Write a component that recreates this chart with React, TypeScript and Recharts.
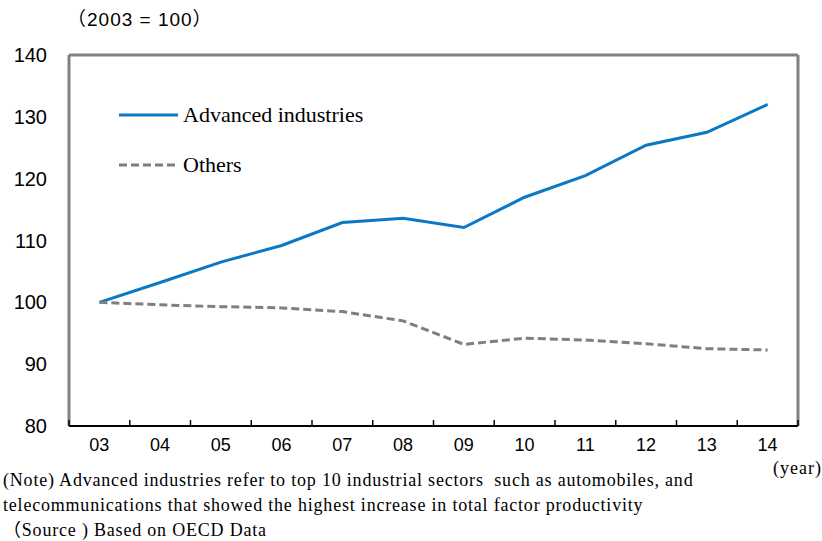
import React from "react";
import {
  CartesianGrid,
  Legend,
  Line,
  LineChart,
  ReferenceLine,
  XAxis,
  YAxis,
} from "recharts";

// TFP index, 2003 = 100
const years = ["03", "04", "05", "06", "07", "08", "09", "10", "11", "12", "13", "14"];
const advanced = [100, 103.2, 106.5, 109.2, 112.9, 113.6, 112.1, 117.0, 120.5, 125.4, 127.5, 132.0];
const others = [100, 99.6, 99.3, 99.1, 98.5, 97.0, 93.2, 94.2, 93.9, 93.3, 92.5, 92.3];
const yTicks = [80, 90, 100, 110, 120, 130, 140];

const series = [
  { key: "advanced", name: "Advanced industries", color: "#0b78c4", dash: undefined },
  { key: "others", name: "Others", color: "#7f7f7f", dash: "8 4" },
];

const data = years.map((year, i) => ({
  year,
  advanced: advanced[i],
  others: others[i],
}));

const W = 822;
const H = 541;
const PLOT_LEFT = 69;
const PLOT_TOP = 55;
const PLOT_RIGHT = 798;
const PLOT_BOTTOM = 426;
const STEP = (PLOT_RIGHT - PLOT_LEFT) / years.length;

const SANS = '"Liberation Sans", Arial, sans-serif';
const SERIF = '"Liberation Serif", "Times New Roman", serif';

// category labels, with the small upward ticks sitting between bands
const XTick = (props: any) => {
  const { x, payload, index } = props;
  const left = x - STEP / 2;
  const right = x + STEP / 2;
  return (
    <g>
      <line x1={left} x2={left} y1={PLOT_BOTTOM - 6} y2={PLOT_BOTTOM} stroke="#000" strokeWidth={1.5} />
      {index === years.length - 1 && (
        <line x1={right} x2={right} y1={PLOT_BOTTOM - 6} y2={PLOT_BOTTOM} stroke="#000" strokeWidth={1.5} />
      )}
      <text
        x={x}
        y={PLOT_BOTTOM + 19}
        textAnchor="middle"
        dominantBaseline="central"
        fill="#000"
        style={{ fontFamily: SANS, fontSize: 18 }}
      >
        {payload.value}
      </text>
    </g>
  );
};

const renderLegend = () => (
  <div style={{ background: "#fff", width: 300, height: 96, position: "relative" }}>
    {series.map((s, i) => (
      <div
        key={s.key}
        style={{
          position: "absolute",
          left: 27,
          top: 20 + i * 50 - 14,
          height: 28,
          display: "flex",
          alignItems: "center",
        }}
      >
        <svg width={60} height={28} style={{ display: "block" }}>
          <line x1={0} x2={59} y1={14} y2={14} stroke={s.color} strokeWidth={3} strokeDasharray={s.dash} />
        </svg>
        <span style={{ fontFamily: SERIF, fontSize: 22, color: "#000", marginLeft: 4, whiteSpace: "nowrap" }}>
          {s.name}
        </span>
      </div>
    ))}
  </div>
);

export default function App() {
  return (
    <div style={{ position: "absolute", left: 0, top: 0, width: W, height: H, background: "#fff" }}>
      <div
        style={{
          position: "absolute",
          left: 67,
          top: 7,
          fontFamily: '"Liberation Sans", "Noto Sans CJK JP", sans-serif',
          fontSize: 19,
          lineHeight: "26px",
          letterSpacing: 1,
          whiteSpace: "nowrap",
        }}
      >
        （2003 = 100）
      </div>

      <LineChart
        width={W}
        height={H}
        data={data}
        margin={{ top: PLOT_TOP, right: W - PLOT_RIGHT - 1, bottom: 0, left: 0 }}
      >
        <CartesianGrid horizontal vertical={false} stroke="#c8c8c8" strokeWidth={1.5} />
        <YAxis
          yAxisId="left"
          width={PLOT_LEFT}
          domain={[80, 140]}
          ticks={yTicks}
          tickLine={false}
          tickSize={0}
          tickMargin={22}
          axisLine={{ stroke: "#808080", strokeWidth: 3 }}
          tick={{ fill: "#000", fontSize: 20, fontFamily: SANS }}
        />
        <YAxis
          yAxisId="right"
          orientation="right"
          width={1}
          domain={[80, 140]}
          tick={false}
          tickLine={false}
          axisLine={{ stroke: "#808080", strokeWidth: 3 }}
        />
        <ReferenceLine yAxisId="left" y={140} stroke="#808080" strokeWidth={3} />
        <XAxis
          dataKey="year"
          scale="band"
          height={H - PLOT_BOTTOM}
          tickLine={false}
          axisLine={{ stroke: "#000", strokeWidth: 2 }}
          tick={<XTick />}
          interval={0}
        />
        <Legend
          layout="vertical"
          align="center"
          verticalAlign="middle"
          content={renderLegend}
          wrapperStyle={{ position: "absolute", left: 92, top: 95, width: 300, height: 96 }}
        />
        {series.map((s) => (
          <Line
            key={s.key}
            yAxisId="left"
            type="linear"
            dataKey={s.key}
            name={s.name}
            stroke={s.color}
            strokeWidth={3}
            strokeDasharray={s.dash}
            dot={false}
            activeDot={false}
            isAnimationActive={false}
          />
        ))}
      </LineChart>

      <div
        style={{
          position: "absolute",
          right: 0,
          top: 455,
          fontFamily: SERIF,
          fontSize: 18,
          letterSpacing: 1,
          lineHeight: "26px",
        }}
      >
        (year)
      </div>

      <div
        style={{
          position: "absolute",
          left: 3,
          top: 468,
          fontFamily: '"Liberation Serif", "Noto Sans CJK JP", serif',
          fontSize: 18,
          letterSpacing: 0.8,
          lineHeight: "25px",
          whiteSpace: "pre",
          color: "#000",
        }}
      >
        {"(Note) Advanced industries refer to top 10 industrial sectors  such as automobiles, and\n" +
          "telecommunications that showed the highest increase in total factor productivity\n" +
          "（Source ) Based on OECD Data"}
      </div>
    </div>
  );
}
